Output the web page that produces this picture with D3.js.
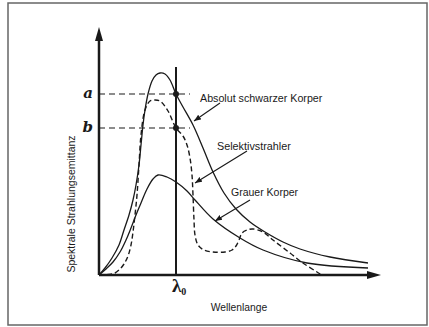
<!DOCTYPE html>
<html><head><meta charset="utf-8">
<script src="https://cdn.jsdelivr.net/npm/d3@7"></script>
<style>html,body{margin:0;padding:0;background:#fff;}svg{display:block;}</style>
</head><body>
<script>
// Data (arbitrary units: wavelength index, emittance)
const blackX = [0,6,13,20,25,30,34,37,40,42,44,46,49,53,57,61,66,71,77,84,94,104,114,125,137,151,166,184,201,231,269];
const blackY = [0,7,17,30,45,60,75,90,110,130,150,165,181,194,200,202,201,195,181,168,150,127,103,82,66,53,43,33,26,18,12];
const grayX = [0,7,14,21,27,32,37,42,48,54,59,68,77,88,96,114,141,164,208,269];
const grayY = [0,6,13,23,35,47,60,72,86,96,100,98,93,84,75,56,37,25,12,7];
const selX = [0,9,16,21,25,29,32,34,36,38,40,42,46,51,56,61,69,77,84,88,91,93,94,95,96,99,105,114,126,133,137,140,143,148,154,164,174,191,204,218,223];
const selY = [0,0.5,2,6,11,19,30,43,60,80,110,140,165,174,175,174,164,147,139,130,117,100,80,55,40,30,25,23,23,25,29,35,42,45,46,43,35,22,12,3,0];
const lambda0 = 77;
const levelA = 181, levelB = 147;
const levelLabels = ["a","b"];
const seriesLabels = ["Absolut schwarzer Korper","Selektivstrahler","Grauer Korper"];
const xTitle = "Wellenlange";
const yTitle = "Spektrale Strahlungsemittanz";

const W = 429, H = 327;
const svg = d3.select("body").append("svg").attr("width", W).attr("height", H);
svg.append("rect").attr("width", W).attr("height", H).attr("fill", "#fff");
svg.append("rect").attr("x", 8).attr("y", 3).attr("width", 419).attr("height", 322)
  .attr("fill", "none").attr("stroke", "#666").attr("stroke-width", 1.5);

const x = d3.scaleLinear().domain([0, 281]).range([99, 380]);
const y = d3.scaleLinear().domain([0, 248]).range([275, 27]);
const ink = "#1a1a1a";

const defs = svg.append("defs");
defs.append("marker").attr("id","ah").attr("viewBox","0 0 10 10").attr("refX",10).attr("refY",5)
  .attr("markerWidth",7).attr("markerHeight",7).attr("markerUnits","userSpaceOnUse").attr("orient","auto")
  .append("path").attr("d","M0,1 L10,5 L0,9 Z").attr("fill",ink);

// axes
svg.append("line").attr("x1", x(0)).attr("y1", y(0)).attr("x2", x(0)).attr("y2", y(238))
  .attr("stroke", ink).attr("stroke-width", 2.5);
svg.append("path").attr("d", `M${x(0)},${y(248)} L${x(0)-4},${y(234)} L${x(0)+4},${y(234)} Z`).attr("fill", ink);
svg.append("line").attr("x1", x(0)).attr("y1", y(0)).attr("x2", x(271)).attr("y2", y(0))
  .attr("stroke", ink).attr("stroke-width", 2.5);
svg.append("path").attr("d", `M${x(282)},${y(0)} L${x(268)},${y(0)-4} L${x(268)},${y(0)+4} Z`).attr("fill", ink);

// lambda line
svg.append("line").attr("x1", x(lambda0)).attr("x2", x(lambda0)).attr("y1", y(0)).attr("y2", y(208))
  .attr("stroke", ink).attr("stroke-width", 2);

// dashed level lines
[levelA, levelB].forEach(v => {
  svg.append("line").attr("x1", x(0)).attr("x2", x(91)).attr("y1", y(v)).attr("y2", y(v))
    .attr("stroke", ink).attr("stroke-width", 1.1).attr("stroke-dasharray", "6,4");
});

const line = d3.line().x(d => x(d[0])).y(d => y(d[1])).curve(d3.curveCatmullRom.alpha(0.5));
const zip = (a, b) => a.map((v, i) => [v, b[i]]);
svg.append("path").attr("d", line(zip(blackX, blackY))).attr("fill","none").attr("stroke",ink).attr("stroke-width",1.3);
svg.append("path").attr("d", line(zip(grayX, grayY))).attr("fill","none").attr("stroke",ink).attr("stroke-width",1.3);
svg.append("path").attr("d", line(zip(selX, selY))).attr("fill","none").attr("stroke",ink).attr("stroke-width",1.4)
  .attr("stroke-dasharray","5,3");

// points
[levelA, levelB].forEach(v => {
  svg.append("circle").attr("cx", x(lambda0)).attr("cy", y(v)).attr("r", 3).attr("fill", ink);
});

// level labels
levelLabels.forEach((t, i) => {
  svg.append("text").attr("x", x(0) - 6).attr("y", y([levelA, levelB][i]) + 4)
    .attr("text-anchor","end").attr("font-family","'DejaVu Serif', 'Liberation Serif', serif")
    .attr("font-weight","bold").attr("font-style","italic").attr("font-size",15).attr("fill",ink).text(t);
});

// lambda label
const lt = svg.append("text").attr("x", x(lambda0) - 4).attr("y", 292)
  .attr("font-family","'Liberation Serif', 'DejaVu Serif', serif").attr("font-weight","bold")
  .attr("font-size",19).attr("fill",ink);
lt.append("tspan").text("λ");
lt.append("tspan").attr("dy", 3).attr("font-size", 10).text("0");

// series labels with arrows
const sans = "'Liberation Sans', Arial, Helvetica, sans-serif";
const lab = [
  {t: seriesLabels[0], tx: 200, ty: 102, fs: 10.7, from: [121, 172], to: [95, 154]},
  {t: seriesLabels[1], tx: 217, ty: 150, fs: 10.8, from: [148, 124], to: [96, 92]},
  {t: seriesLabels[2], tx: 231, ty: 196, fs: 10.5, from: [151, 75], to: [116, 54]},
];
lab.forEach(d => {
  svg.append("text").attr("x", d.tx).attr("y", d.ty).attr("font-family", sans)
    .attr("font-size", d.fs).attr("fill", ink).text(d.t);
  svg.append("line").attr("x1", x(d.from[0])).attr("y1", y(d.from[1]))
    .attr("x2", x(d.to[0])).attr("y2", y(d.to[1])).attr("stroke", ink).attr("stroke-width", 1.1)
    .attr("marker-end", "url(#ah)");
});

// axis titles
svg.append("text").attr("x", 239).attr("y", 311).attr("text-anchor","middle").attr("font-family", sans)
  .attr("font-size", 10.3).attr("fill", ink).text(xTitle);
svg.append("text").attr("transform","translate(75,204) rotate(-90)").attr("text-anchor","middle")
  .attr("font-family", sans).attr("font-size", 10.5).attr("fill", ink).text(yTitle);
</script>
</body></html>
